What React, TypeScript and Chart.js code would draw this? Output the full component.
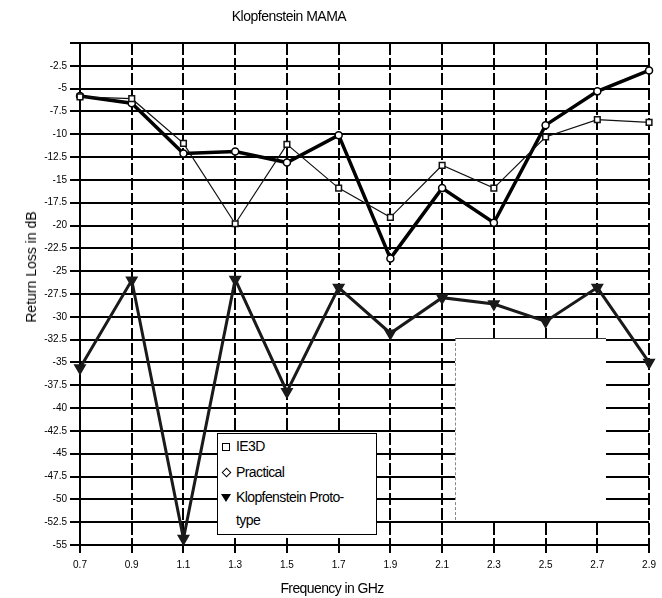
import React, { useEffect, useRef } from "react";
import { Chart, registerables } from "chart.js";

Chart.register(...registerables);

const frequencies = ["0.7", "0.9", "1.1", "1.3", "1.5", "1.7", "1.9", "2.1", "2.3", "2.5", "2.7", "2.9"];
const ie3dValues = [-5.9, -6.1, -11.0, -19.8, -11.1, -15.9, -19.1, -13.4, -15.9, -10.3, -8.4, -8.7];
const practicalValues = [-5.8, -6.6, -12.1, -11.9, -13.1, -10.1, -23.6, -15.9, -19.7, -9.0, -5.3, -3.0];
const prototypeValues = [-35.6, -26.0, -54.3, -25.9, -38.2, -26.8, -31.8, -27.9, -28.6, -30.5, -26.8, -35.0];
const yMin = -55;
const yMax = 0;
const yStep = 2.5;

const FONT = "'Liberation Sans', Arial, sans-serif";

export default function App() {
  const canvasRef = useRef<HTMLCanvasElement | null>(null);

  useEffect(() => {
    if (!canvasRef.current) return;
    const chart = new Chart(canvasRef.current, {
      type: "line",
      data: {
        labels: frequencies,
        datasets: [
          {
            label: "Klopfenstein Proto-type",
            data: prototypeValues,
            borderColor: "#1a1a1a",
            borderWidth: 3,
            pointStyle: "triangle",
            rotation: 180,
            pointRadius: 4.5,
            pointBackgroundColor: "#1a1a1a",
            pointBorderColor: "#1a1a1a",
            tension: 0,
          },
          {
            label: "IE3D",
            data: ie3dValues,
            borderColor: "#111",
            borderWidth: 1.2,
            pointStyle: "rect",
            pointRadius: 4,
            pointBorderWidth: 1.5,
            pointBackgroundColor: "#fff",
            pointBorderColor: "#111",
            tension: 0,
          },
          {
            label: "Practical",
            data: practicalValues,
            borderColor: "#000",
            borderWidth: 3.5,
            pointStyle: "circle",
            pointRadius: 3.5,
            pointBorderWidth: 1.5,
            pointBackgroundColor: "#fff",
            pointBorderColor: "#000",
            tension: 0,
          },
        ],
      },
      options: {
        animation: false,
        responsive: true,
        maintainAspectRatio: false,
        layout: { padding: { top: 43, right: 9, left: 0, bottom: 0 } },
        plugins: {
          legend: { display: false },
          title: { display: false },
          tooltip: { enabled: false },
        },
        scales: {
          x: {
            type: "category",
            offset: false,
            grid: {
              color: "#000",
              lineWidth: 2,
              tickLength: 8,
              drawTicks: true,
            },
            border: { display: true, color: "#000", width: 2, dash: [12, 3] },
            ticks: {
              color: "#000",
              font: { family: FONT, size: 10 },
              padding: 6,
              maxRotation: 0,
              autoSkip: false,
            },
            afterFit: (scale: any) => {
              scale.height = 53;
            },
          },
          y: {
            min: yMin,
            max: yMax,
            grid: {
              color: "#000",
              lineWidth: 2,
              tickLength: 10,
            },
            border: { display: true, color: "#000", width: 2 },
            ticks: {
              stepSize: yStep,
              color: "#000",
              font: { family: FONT, size: 10 },
              padding: 3,
              autoSkip: false,
              callback: (v: any) => (Number(v) === 0 ? "" : String(v)),
            },
            afterFit: (scale: any) => {
              scale.width = 80;
            },
          },
        },
      },
    });
    return () => chart.destroy();
  }, []);

  const legendText: React.CSSProperties = {
    position: "absolute",
    fontFamily: FONT,
    fontSize: 14,
    letterSpacing: -0.6,
    color: "#000",
    lineHeight: "16px",
    whiteSpace: "nowrap",
  };

  return (
    <div style={{ position: "absolute", left: 0, top: 0, width: 662, height: 598, background: "#fff" }}>
      <canvas ref={canvasRef} style={{ display: "block" }} />
      <div
        style={{
          position: "absolute",
          left: 218,
          top: 8,
          width: 142,
          textAlign: "center",
          fontFamily: FONT,
          fontSize: 14,
          letterSpacing: -0.5,
          color: "#000",
        }}
      >
        Klopfenstein MAMA
      </div>
      <div
        style={{
          position: "absolute",
          left: 31,
          top: 267,
          transform: "translate(-50%, -50%) rotate(-90deg)",
          fontFamily: FONT,
          fontSize: 14,
          color: "#000",
          whiteSpace: "nowrap",
        }}
      >
        Return Loss in dB
      </div>
      <div
        style={{
          position: "absolute",
          left: 262,
          top: 580,
          width: 140,
          textAlign: "center",
          fontFamily: FONT,
          fontSize: 14,
          letterSpacing: -0.6,
          color: "#000",
        }}
      >
        Frequency in GHz
      </div>
      <div
        style={{
          position: "absolute",
          left: 455,
          top: 338,
          width: 150,
          height: 181,
          background: "#fff",
          borderLeft: "1px dashed #888",
          borderTop: "1px solid #333",
        }}
      />
      <div
        style={{
          position: "absolute",
          left: 217,
          top: 433,
          width: 158,
          height: 100,
          background: "#fff",
          border: "1.5px solid #000",
        }}
      >
        <div style={{ position: "absolute", left: 4, top: 9, width: 6, height: 6, border: "1.5px solid #000" }} />
        <div style={{ ...legendText, left: 18, top: 4 }}>IE3D</div>
        <div
          style={{
            position: "absolute",
            left: 5,
            top: 35,
            width: 5,
            height: 5,
            border: "1.5px solid #000",
            transform: "rotate(45deg)",
          }}
        />
        <div style={{ ...legendText, left: 18, top: 30 }}>Practical</div>
        <div
          style={{
            position: "absolute",
            left: 3,
            top: 60,
            width: 0,
            height: 0,
            borderLeft: "5px solid transparent",
            borderRight: "5px solid transparent",
            borderTop: "8px solid #000",
          }}
        />
        <div style={{ ...legendText, left: 18, top: 55 }}>Klopfenstein Proto-</div>
        <div style={{ ...legendText, left: 18, top: 78 }}>type</div>
      </div>
    </div>
  );
}
